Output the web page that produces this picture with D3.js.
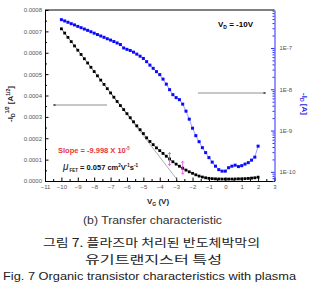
<!DOCTYPE html>
<meta charset="UTF-8">
<style>
  body { margin: 0; background: #fff; }
  text { font-family: "Liberation Sans", Arial, sans-serif; }
</style>
<svg width="309" height="282"></svg>
<script src="https://d3js.org/d3.v7.min.js"></script>
<script>

// gate voltage, -10 V to 2 V in 0.2 V steps
var vg = d3.range(61).map(function(i) { return +(-10 + 0.2 * i).toFixed(1); });

// sqrt(-Id) [A^1/2], black squares, left axis
var sqrtId = [
  7.12e-4, 6.92e-4, 6.72e-4, 6.52e-4, 6.32e-4, 6.12e-4, 5.92e-4, 5.72e-4, 5.52e-4, 5.32e-4,
  5.12e-4, 4.92e-4, 4.72e-4, 4.52e-4, 4.32e-4, 4.12e-4, 3.92e-4, 3.72e-4, 3.53e-4, 3.34e-4,
  3.15e-4, 2.96e-4, 2.77e-4, 2.58e-4, 2.40e-4, 2.22e-4, 2.02e-4, 1.85e-4, 1.70e-4, 1.55e-4,
  1.42e-4, 1.29e-4, 1.16e-4, 1.03e-4, 0.90e-4, 0.79e-4, 0.69e-4, 0.60e-4, 0.51e-4, 0.43e-4,
  0.36e-4, 0.29e-4, 0.23e-4, 0.185e-4, 0.15e-4, 0.125e-4, 0.11e-4, 0.10e-4, 0.095e-4, 0.09e-4,
  0.09e-4, 0.09e-4, 0.092e-4, 0.095e-4, 0.10e-4, 0.10e-4, 0.11e-4, 0.12e-4, 0.135e-4, 0.15e-4,
  0.18e-4
];

// -Id [A], blue squares, right log axis
var idLog = [
  4.84e-7, 4.51e-7, 4.19e-7, 3.87e-7, 3.61e-7, 3.33e-7, 3.10e-7, 2.87e-7, 2.67e-7, 2.47e-7,
  2.28e-7, 2.11e-7, 1.95e-7, 1.81e-7, 1.67e-7, 1.55e-7, 1.43e-7, 1.32e-7, 1.21e-7, 1.00e-7,
  9.25e-8, 8.69e-8, 7.91e-8, 7.08e-8, 6.32e-8, 5.57e-8, 4.66e-8, 3.84e-8, 3.21e-8, 2.67e-8,
  2.26e-8, 1.76e-8, 1.33e-8, 9.77e-9, 7.40e-9, 6.27e-9, 5.60e-9, 4.36e-9, 2.95e-9, 1.89e-9,
  1.14e-9, 7.53e-10, 5.38e-10, 3.85e-10, 2.92e-10, 2.21e-10, 1.72e-10, 1.37e-10, 1.13e-10, 1.04e-10,
  1.04e-10, 1.26e-10, 1.37e-10, 1.45e-10, 1.34e-10, 1.41e-10, 1.54e-10, 1.67e-10, 1.92e-10, 2.27e-10,
  4.19e-10
];

// linear fit of the sqrt curve
var fitV = [-7.0, -2.88];
var fitVal = [4.12e-4, 0];

// error markers
var markV = [-3.4, -2.6];
var markVal = [1.03e-4, 0.62e-4];

var xTicks = d3.range(-11, 4);
var leftTicks = d3.range(0, 9).map(function(i) { return i * 0.0001; });
var rightTicks = [1e-10, 1e-9, 1e-8, 1e-7];

var svg = d3.select("svg");
svg.append("rect").attr("width", 309).attr("height", 282).attr("fill", "#fff");

var x = d3.scaleLinear().domain([-11, 3]).range([45, 274.5]);
var yL = d3.scaleLinear().domain([0, 0.0008]).range([181, 10]);
var yR = d3.scaleLog().domain([6e-11, 8.3e-7]).range([181, 10]);

// frame top
svg.append("line")
    .attr("x1", 45).attr("x2", 274.5).attr("y1", 10).attr("y2", 10)
    .attr("stroke", "#000").attr("stroke-width", 1);

// bottom axis
var gx = svg.append("g").attr("transform", "translate(0,181)")
    .call(d3.axisBottom(x).tickValues(xTicks).tickSizeInner(-3.5).tickSizeOuter(0).tickPadding(4).tickFormat(d3.format("d")));
svg.append("g").attr("transform", "translate(0,181)")
    .call(d3.axisBottom(x).tickValues(d3.range(-10.5, 3, 1)).tickSizeInner(-2).tickSizeOuter(0).tickFormat(""))
    .select(".domain").remove();

// left axis
var gl = svg.append("g").attr("transform", "translate(45,0)")
    .call(d3.axisLeft(yL).tickValues(leftTicks).tickSizeInner(-3.5).tickSizeOuter(0).tickPadding(3).tickFormat(d3.format(".4f")));
svg.append("g").attr("transform", "translate(45,0)")
    .call(d3.axisLeft(yL).tickValues(d3.range(0, 8).map(function(i) { return i * 0.0001 + 0.00005; })).tickSizeInner(-2).tickSizeOuter(0).tickFormat(""))
    .select(".domain").remove();

// right axis (log)
var gr = svg.append("g").attr("class", "raxis").attr("transform", "translate(274.5,0)")
    .call(d3.axisRight(yR).tickValues(rightTicks).tickSizeInner(-3.5).tickSizeOuter(0).tickPadding(5)
        .tickFormat(function(d) { return "1E" + Math.round(Math.log10(d)); }));
svg.append("g").attr("class", "raxis").attr("transform", "translate(274.5,0)")
    .call(d3.axisRight(yR).tickValues(yR.ticks().filter(function(d) { return rightTicks.indexOf(d) < 0; }))
        .tickSizeInner(-2).tickSizeOuter(0).tickFormat(""))
    .select(".domain").remove();

svg.selectAll(".tick text").attr("font-size", 6).attr("fill", "#555");
gx.selectAll(".domain, .tick line").attr("stroke", "#000");
gl.selectAll(".domain, .tick line").attr("stroke", "#000");
svg.selectAll(".raxis").selectAll(".domain, .tick line").attr("stroke", "#2b2bff");

// fit line
svg.append("line")
    .attr("x1", x(fitV[0])).attr("y1", yL(fitVal[0]))
    .attr("x2", x(fitV[1])).attr("y2", yL(fitVal[1]))
    .attr("stroke", "#777").attr("stroke-width", 0.6);

var pts = vg.map(function(v, i) { return {v: v, s: sqrtId[i], id: idLog[i]}; });

// blue series
svg.append("path").datum(pts)
    .attr("fill", "none").attr("stroke", "#3a3aff").attr("stroke-width", 0.5)
    .attr("d", d3.line().x(function(d) { return x(d.v); }).y(function(d) { return yR(d.id); }));
svg.selectAll(".bsq").data(pts).enter().append("rect")
    .attr("x", function(d) { return x(d.v) - 1.5; })
    .attr("y", function(d) { return yR(d.id) - 1.5; })
    .attr("width", 3).attr("height", 3).attr("fill", "#0a0aff");

// black series
svg.append("path").datum(pts)
    .attr("fill", "none").attr("stroke", "#000").attr("stroke-width", 0.5)
    .attr("d", d3.line().x(function(d) { return x(d.v); }).y(function(d) { return yL(d.s); }));
svg.selectAll(".ksq").data(pts).enter().append("rect")
    .attr("x", function(d) { return x(d.v) - 1.4; })
    .attr("y", function(d) { return yL(d.s) - 1.4; })
    .attr("width", 2.8).attr("height", 2.8).attr("fill", "#000");

// magenta markers
markV.forEach(function(v, i) {
    var cx = x(v), cy = yL(markVal[i]);
    var g = svg.append("g").attr("stroke", "#e040d0").attr("stroke-width", 0.8).attr("fill", "none");
    g.append("line").attr("x1", cx).attr("x2", cx).attr("y1", cy - 6.5).attr("y2", cy + 6.5);
    g.append("path").attr("d", "M" + (cx - 1.5) + "," + (cy - 5) + "L" + cx + "," + (cy - 6.5) + "L" + (cx + 1.5) + "," + (cy - 5));
    g.append("path").attr("d", "M" + (cx - 1.5) + "," + (cy + 5) + "L" + cx + "," + (cy + 6.5) + "L" + (cx + 1.5) + "," + (cy + 5));
});

// arrows
var defs = svg.append("defs");
defs.append("marker").attr("id", "ah").attr("viewBox", "0 0 10 10").attr("refX", 10).attr("refY", 5)
    .attr("markerWidth", 5).attr("markerHeight", 4).attr("orient", "auto")
    .append("path").attr("d", "M0,0L10,5L0,10z").attr("fill", "#333");
svg.append("line").attr("x1", 107).attr("y1", 105).attr("x2", 53).attr("y2", 105)
    .attr("stroke", "#444").attr("stroke-width", 0.6).attr("marker-end", "url(#ah)");
svg.append("line").attr("x1", 198).attr("y1", 93).attr("x2", 266).attr("y2", 93)
    .attr("stroke", "#444").attr("stroke-width", 0.6).attr("marker-end", "url(#ah)");

// annotations
var vd = svg.append("text").attr("x", 218).attr("y", 27).attr("font-size", 8).attr("font-weight", "bold");
vd.append("tspan").text("V");
vd.append("tspan").attr("font-size", 5).attr("dy", 2).text("D");
vd.append("tspan").attr("dy", -2).text(" = -10V");

var sl = svg.append("text").attr("x", 58).attr("y", 153).attr("font-size", 7.5).attr("font-weight", "bold").attr("fill", "#e8343a");
sl.append("tspan").text("Slope = -9.998 X 10");
sl.append("tspan").attr("font-size", 4.5).attr("dy", -3).text("-5");

var mu = svg.append("text").attr("x", 63).attr("y", 170).attr("font-size", 7.5).attr("font-weight", "bold").attr("fill", "#111");
mu.append("tspan").attr("font-size", 10).attr("font-style", "italic").attr("font-weight", "normal").text("\u03bc");
mu.append("tspan").attr("font-size", 4.5).attr("dy", 2).attr("dx", 1).text("FET");
mu.append("tspan").attr("dy", -2).text(" =  0.057 cm");
mu.append("tspan").attr("font-size", 4.5).attr("dy", -3).text("2");
mu.append("tspan").attr("dy", 3).text("V");
mu.append("tspan").attr("font-size", 4.5).attr("dy", -3).text("-1");
mu.append("tspan").attr("dy", 3).text("s");
mu.append("tspan").attr("font-size", 4.5).attr("dy", -3).text("-1");

// axis titles
var xl = svg.append("text").attr("x", 147).attr("y", 204).attr("font-size", 8).attr("font-weight", "bold").attr("fill", "#222");
xl.append("tspan").text("V");
xl.append("tspan").attr("font-size", 5).attr("dy", 2).text("G");
xl.append("tspan").attr("dy", -2).text(" (V)");

var ll = svg.append("text").attr("transform", "translate(13,104) rotate(-90)")
    .attr("text-anchor", "middle").attr("font-size", 8).attr("font-weight", "bold").attr("fill", "#222");
ll.append("tspan").text("-I");
ll.append("tspan").attr("font-size", 5).attr("dy", 2).text("D");
ll.append("tspan").attr("font-size", 5).attr("dy", -6).text("1/2");
ll.append("tspan").attr("dy", 4).text("  [A");
ll.append("tspan").attr("font-size", 5).attr("dy", -3).text("1/2");
ll.append("tspan").attr("dy", 3).text("]");

var rl = svg.append("text").attr("transform", "translate(302,104) rotate(90)")
    .attr("text-anchor", "middle").attr("font-size", 8).attr("font-weight", "bold").attr("fill", "#2222ee");
rl.append("tspan").text("-I");
rl.append("tspan").attr("font-size", 5).attr("dy", 2).text("D");
rl.append("tspan").attr("dy", -2).text(" [A]");

// captions
svg.append("text").attr("x", 83).attr("y", 224).attr("font-size", 11.5).attr("fill", "#333")
    .attr("textLength", 139).attr("lengthAdjust", "spacingAndGlyphs").text("(b)  Transfer  characteristic");
svg.append("text").attr("x", 43).attr("y", 247).attr("font-size", 11.5).attr("fill", "#222")
    .style("font-family", "'Noto Sans CJK KR', sans-serif")
    .attr("textLength", 217).attr("lengthAdjust", "spacingAndGlyphs").text("그림 7. 플라즈마 처리된 반도체박막의");
svg.append("text").attr("x", 85).attr("y", 264).attr("font-size", 11.5).attr("fill", "#222")
    .style("font-family", "'Noto Sans CJK KR', sans-serif")
    .attr("textLength", 137).attr("lengthAdjust", "spacingAndGlyphs").text("유기트랜지스터 특성");
svg.append("text").attr("x", 3).attr("y", 280).attr("font-size", 11.5).attr("fill", "#222")
    .attr("textLength", 293).attr("lengthAdjust", "spacingAndGlyphs").text("Fig. 7 Organic transistor characteristics with plasma");

</script>
